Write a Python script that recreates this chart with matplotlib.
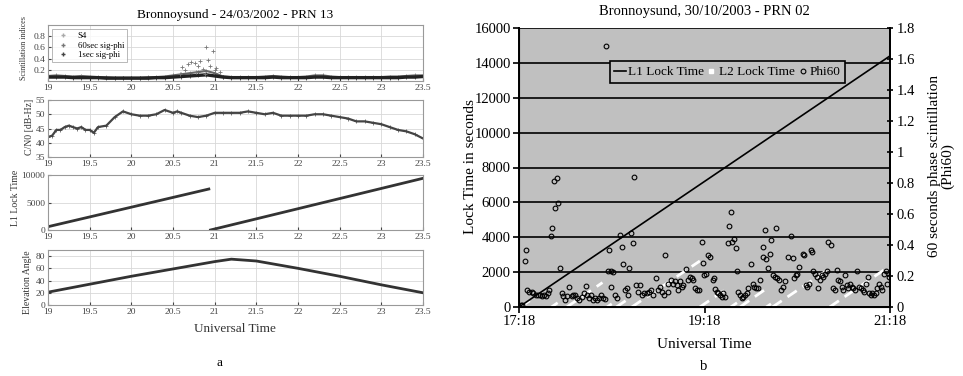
import numpy as np
import matplotlib
matplotlib.use("Agg")
import matplotlib.pyplot as plt
from matplotlib.lines import Line2D

plt.rcParams['font.family'] = ['Liberation Serif', 'DejaVu Serif']

# ---------------- panel a data ----------------
ut_ticks = [19, 19.5, 20, 20.5, 21, 21.5, 22, 22.5, 23, 23.5]
ut_labels = ['19', '19.5', '20', '20.5', '21', '21.5', '22', '22.5', '23', '23.5']

scint_t = [19.0, 19.1, 19.2, 19.3, 19.4, 19.5, 19.6, 19.7, 19.8, 19.9,
           20.0, 20.1, 20.2, 20.3, 20.4, 20.5, 20.6, 20.7, 20.8, 20.9,
           21.0, 21.1, 21.2, 21.3, 21.4, 21.5, 21.6, 21.7, 21.8, 21.9,
           22.0, 22.1, 22.2, 22.3, 22.4, 22.5, 22.6, 22.7, 22.8, 22.9,
           23.0, 23.1, 23.2, 23.3, 23.4, 23.5]
s4 = [0.09, 0.10, 0.09, 0.08, 0.09, 0.08, 0.07, 0.07, 0.06, 0.06,
      0.06, 0.06, 0.07, 0.07, 0.08, 0.10, 0.12, 0.14, 0.16, 0.18,
      0.14, 0.08, 0.07, 0.07, 0.07, 0.07, 0.08, 0.09, 0.08, 0.07,
      0.07, 0.08, 0.10, 0.10, 0.08, 0.07, 0.07, 0.07, 0.07, 0.07,
      0.07, 0.08, 0.08, 0.09, 0.10, 0.10]
sig60 = [0.07, 0.07, 0.07, 0.06, 0.06, 0.06, 0.06, 0.05, 0.05, 0.05,
         0.05, 0.05, 0.05, 0.06, 0.06, 0.07, 0.08, 0.09, 0.10, 0.11,
         0.09, 0.07, 0.06, 0.06, 0.06, 0.06, 0.06, 0.07, 0.06, 0.06,
         0.06, 0.06, 0.07, 0.07, 0.06, 0.06, 0.06, 0.06, 0.06, 0.06,
         0.06, 0.06, 0.06, 0.07, 0.07, 0.08]
burst_t = [20.58, 20.61, 20.64, 20.68, 20.72, 20.76, 20.78, 20.80, 20.82,
           20.86, 20.88, 20.90, 20.92, 20.94, 20.98, 21.00, 21.02, 21.06]
burst_sig = [0.13, 0.25, 0.19, 0.30, 0.34, 0.33, 0.16, 0.27, 0.36,
             0.22, 0.13, 0.60, 0.37, 0.27, 0.54, 0.19, 0.24, 0.16]

cn0_t = [19.0, 19.05, 19.1, 19.15, 19.2, 19.25, 19.3, 19.35, 19.4, 19.45,
         19.5, 19.55, 19.6, 19.7, 19.8, 19.9, 20.0, 20.1, 20.2, 20.3,
         20.4, 20.5, 20.55, 20.6, 20.7, 20.8, 20.9, 21.0, 21.1, 21.2,
         21.3, 21.4, 21.5, 21.6, 21.7, 21.8, 21.9, 22.0, 22.1, 22.2,
         22.3, 22.4, 22.5, 22.6, 22.7, 22.8, 22.9, 23.0, 23.1, 23.2,
         23.3, 23.4, 23.5]
cn0 = [42.0, 42.5, 44.5, 44.5, 45.5, 46.0, 45.5, 45.0, 45.5, 44.5,
       44.5, 43.5, 45.5, 46.0, 49.0, 51.0, 50.0, 49.5, 49.5, 50.0,
       51.5, 50.5, 51.0, 50.5, 49.5, 49.0, 49.5, 50.5, 50.5, 50.5,
       50.5, 51.0, 50.5, 50.0, 50.5, 49.5, 49.5, 49.5, 49.5, 50.0,
       50.0, 49.5, 49.0, 48.5, 47.5, 47.5, 47.0, 46.5, 45.5, 44.5,
       44.0, 43.0, 41.5]

lock1_t = [19.0, 20.93]
lock1 = [600, 7450]
lock2_t = [20.95, 23.5]
lock2 = [0, 9400]

elev_t = [19.0, 19.5, 20.0, 20.5, 21.0, 21.2, 21.5, 22.0, 22.5, 23.0, 23.5]
elev = [21, 34, 47, 59, 71, 75, 72, 60, 47, 33, 20]

# ---------------- panel b data ----------------
# minutes after 17:18
b_ticks = [0, 120, 240]
b_tick_labels = ['17:18', '19:18', '21:18']

l1_min = [0, 240]
l1_lock = [0, 14400]

l2_start = [1, 21, 31, 57, 63, 73, 117, 137, 143, 160, 164, 201]
l2_end = [14, 25, 54, 60, 72, 117, 135, 141, 160, 163, 200, 239]
l2_peak = [780, 240, 1400, 180, 540, 2640, 1080, 240, 1050, 180, 2150, 2300]

phi60_min = [1, 2, 3.9, 4.5, 5.4, 6.7, 8.2, 9.3, 10.8, 12.1, 13.6, 14.7, 16.2, 17.5,
             19.0, 19.6, 20.7, 21.5, 22.6, 23.3, 24.4, 25.4, 26.5, 27.6, 28.7, 29.8,
             30.8, 32.6, 34.1, 35.1, 36.2, 37.7, 39.0, 40.5, 42.0, 43.1, 44.2, 45.3,
             46.4, 48.1, 49.2, 50.2, 52.0, 53.0, 54.5, 55.6, 56.1, 57.6, 58.2, 59.3,
             59.5, 61.0, 62.1, 63.6, 65.5, 66.4, 67.5, 68.6, 69.6, 70.7, 71.4, 72.5,
             73.5, 74.4, 75.5, 77.2, 78.3, 79.3, 80.8, 82.6, 84.1, 85.4, 86.9, 88.6,
             90.1, 91.2, 92.3, 93.8, 94.4, 96.2, 96.6, 98.1, 99.8, 100.9, 102.0, 103.1,
             104.1, 105.2, 106.3, 108.0, 109.5, 110.6, 111.7, 112.8, 113.8, 114.9,
             116.2, 118.4, 119.2, 119.6, 120.7, 122.5, 123.5, 125.3, 126.1, 127.0,
             127.9, 128.9, 130.0, 131.1, 132.2, 133.2, 135.2, 136.0, 137.1, 138.0,
             139.3, 140.2, 140.8, 141.9, 143.0, 144.0, 145.1, 146.2, 147.3, 148.3,
             150.1, 151.1, 152.0, 153.3, 154.8, 155.9, 157.8, 158.0, 158.9, 159.8,
             161.3, 162.3, 163.2, 164.5, 165.6, 166.3, 167.1, 168.4, 169.7, 171.0,
             172.1, 174.2, 176.0, 177.0, 178.1, 179.2, 180.0, 181.3, 183.5, 184.3,
             185.6, 186.5, 187.8, 188.9, 189.3, 190.4, 191.5, 192.5, 193.6, 194.7,
             195.8, 196.8, 197.9, 199.0, 200.1, 201.8, 203.3, 204.4, 205.5, 206.5,
             207.6, 208.7, 209.8, 210.9, 211.9, 213.0, 214.1, 215.2, 216.2, 217.3,
             218.8, 220.1, 221.2, 222.3, 223.4, 224.4, 225.5, 226.4, 227.5, 228.5,
             229.6, 230.7, 231.8, 232.8, 233.9, 235.0, 236.1, 237.2, 238.2, 239.3]
phi60 = [0.01, 0.01, 0.30, 0.37, 0.11, 0.10, 0.10, 0.09, 0.08, 0.08, 0.08, 0.07, 0.08, 0.07,
         0.09, 0.11, 0.46, 0.51, 0.815, 0.64, 0.835, 0.67, 0.25, 0.09, 0.07, 0.045,
         0.07, 0.13, 0.07, 0.08, 0.08, 0.055, 0.045, 0.065, 0.09, 0.135, 0.08, 0.055,
         0.08, 0.045, 0.055, 0.045, 0.055, 0.08, 0.055, 0.05, 1.685, 0.23, 0.37, 0.13,
         0.23, 0.225, 0.08, 0.055, 0.465, 0.39, 0.28, 0.11, 0.12, 0.08, 0.25, 0.48,
         0.415, 0.84, 0.14, 0.10, 0.14, 0.08, 0.09, 0.09, 0.10, 0.11, 0.08, 0.19,
         0.11, 0.13, 0.10, 0.08, 0.335, 0.10, 0.15, 0.175, 0.15, 0.165, 0.14, 0.11,
         0.165, 0.13, 0.14, 0.245, 0.175, 0.195, 0.185, 0.175, 0.12, 0.11,
         0.11, 0.42, 0.285, 0.205, 0.215, 0.335, 0.32, 0.175, 0.185, 0.115,
         0.10, 0.09, 0.08, 0.065, 0.09, 0.065, 0.41, 0.52, 0.615, 0.42,
         0.44, 0.38, 0.235, 0.095, 0.08, 0.055, 0.065, 0.08, 0.09, 0.12,
         0.275, 0.15, 0.13, 0.12, 0.12, 0.175, 0.39, 0.32, 0.50, 0.31,
         0.25, 0.345, 0.43, 0.205, 0.195, 0.51, 0.185, 0.175, 0.11, 0.13,
         0.165, 0.325, 0.46, 0.315, 0.185, 0.205, 0.215, 0.26, 0.345, 0.335,
         0.14, 0.13, 0.15, 0.37, 0.355, 0.23, 0.215, 0.195, 0.12, 0.175,
         0.205, 0.195, 0.215, 0.23, 0.42, 0.40, 0.12, 0.11, 0.24, 0.175,
         0.165, 0.13, 0.11, 0.205, 0.14, 0.12, 0.15, 0.13, 0.12, 0.11,
         0.23, 0.13, 0.12, 0.11, 0.10, 0.15, 0.195, 0.09, 0.08, 0.09,
         0.08, 0.09, 0.12, 0.15, 0.13, 0.11, 0.215, 0.23, 0.15, 0.195]

W, H = 963, 376
fig = plt.figure(figsize=(W / 100, H / 100), dpi=100)


def frac(px, py):
    return px / W, 1 - py / H


# ---------------- panel a ----------------
rows = [(25, 81), (100, 157), (175, 230), (250, 305)]
axes_a = []
for top, bot in rows:
    a = fig.add_axes([48 / W, 1 - bot / H, (423 - 48) / W, (bot - top) / H])
    a.set_xlim(19, 23.5)
    a.set_xticks(ut_ticks)
    a.set_xticklabels(ut_labels)
    a.grid(True, color='#d8d8d8', lw=0.6)
    a.set_axisbelow(True)
    a.tick_params(labelsize=6.8, colors='#444', length=2, direction='in', pad=2)
    for s in a.spines.values():
        s.set_color('#999')
        s.set_linewidth(0.8)
    axes_a.append(a)

a1, a2, a3, a4 = axes_a
a1.plot(scint_t, s4, color='#666', lw=1.5, marker='+', ms=2.5, mew=0.5)
a1.plot(scint_t, sig60, color='#222', lw=2.4, marker='+', ms=2.5, mew=0.5)
a1.plot(burst_t, burst_sig, ls='none', marker='+', ms=3, mew=0.6, color='#777')
a1.set_ylim(0, 1)
a1.set_yticks([0.2, 0.4, 0.6, 0.8])
a1.set_yticklabels(['0.2', '0.4', '0.6', '0.8'])
leg_a = [Line2D([], [], ls='none', marker='+', color='#aaa', ms=3),
         Line2D([], [], ls='none', marker='+', color='#777', ms=3),
         Line2D([], [], ls='none', marker='+', color='#444', ms=3)]
la = a1.legend(leg_a, ['S4', '60sec sig-phi', '1sec sig-phi'], loc='upper left',
               fontsize=6.3, frameon=True, fancybox=False, edgecolor='#999',
               handlelength=1.8, borderpad=0.3, labelspacing=0.15)
la.get_frame().set_linewidth(0.6)

a2.plot(cn0_t, cn0, color='#444', lw=1.6, marker='+', ms=2.5, mew=0.5)
a2.set_ylim(35, 55)
a2.set_yticks([35, 40, 45, 50, 55])

a3.plot(lock1_t, lock1, color='#333', lw=2.0)
a3.plot(lock2_t, lock2, color='#333', lw=2.0)
a3.set_ylim(0, 10000)
a3.set_yticks([0, 5000, 10000])

a4.plot(elev_t, elev, color='#333', lw=2.0)
a4.set_ylim(0, 90)
a4.set_yticks([0, 20, 40, 60, 80])

fig.text(*frac(235, 15), 'Bronnoysund - 24/03/2002 - PRN 13', ha='center', va='center', fontsize=9.5)
fig.text(*frac(24, 48), 'Scintillation indices', rotation=90, ha='center', va='center', fontsize=5.8, color='#333')
fig.text(*frac(30, 127), 'C/N0 [dB-Hz]', rotation=90, ha='center', va='center', fontsize=7, color='#333')
fig.text(*frac(15, 198), 'L1 Lock Time', rotation=90, ha='center', va='center', fontsize=7, color='#333')
fig.text(*frac(28, 282), 'Elevation Angle', rotation=90, ha='center', va='center', fontsize=7, color='#333')
fig.text(*frac(235, 329), 'Universal Time', ha='center', va='center', fontsize=9.5, color='#333')
fig.text(*frac(219, 363), 'a', ha='center', va='center', fontsize=9.5)

# ---------------- panel b ----------------
ax = fig.add_axes([519 / W, 1 - 307 / H, (890 - 519) / W, (307 - 28) / H])
ax.set_facecolor('#c0c0c0')
ax.set_xlim(0, 240)
ax.set_ylim(0, 16000)
ax.set_yticks(range(0, 16001, 2000))
ax.set_xticks(b_ticks)
ax.set_xticklabels(b_tick_labels)
ax.yaxis.grid(True, color='black', lw=1.2)
ax.set_axisbelow(True)
ax.spines['top'].set_visible(False)
for s in ['left', 'bottom', 'right']:
    ax.spines[s].set_linewidth(1.4)
ax.tick_params(labelsize=10.5, length=4, width=1.2, direction='out', pad=2)

ax.plot(l1_min, l1_lock, color='black', lw=1.2, zorder=3)
for s0, s1, pk in zip(l2_start, l2_end, l2_peak):
    ax.plot([s0, s1], [0, pk], color='white', lw=2.0, ls=(0, (4, 2.5)), zorder=2)

ax2 = ax.twinx()
ax2.set_ylim(0, 1.8)
ax2.set_yticks([0, 0.2, 0.4, 0.6, 0.8, 1.0, 1.2, 1.4, 1.6, 1.8])
ax2.set_yticklabels(['0', '0.2', '0.4', '0.6', '0.8', '1', '1.2', '1.4', '1.6', '1.8'])
ax2.spines['top'].set_visible(False)
ax2.spines['right'].set_linewidth(1.4)
ax2.tick_params(labelsize=10.5, length=5, width=1.2, direction='inout', pad=2)
ax2.plot(phi60_min, phi60, ls='none', marker='o', ms=3.4, mfc='none', mec='black', mew=0.8)

handles = [Line2D([], [], color='black', lw=1.2),
           Line2D([], [], ls='none', marker='s', ms=2.5, color='white'),
           Line2D([], [], ls='none', marker='o', ms=3.4, mfc='none', mec='black', mew=0.8)]
lg = ax2.legend(handles, ['L1 Lock Time', 'L2 Lock Time', 'Phi60'], ncol=3,
                loc='center', bbox_to_anchor=(0.562, 0.842), fontsize=9.5,
                frameon=True, fancybox=False, facecolor='#c0c0c0', edgecolor='black',
                framealpha=1, handlelength=0.9, handletextpad=0.1, columnspacing=0.15,
                borderpad=0.35)
lg.get_frame().set_linewidth(1.2)

fig.text(*frac(704, 12), 'Bronnoysund, 30/10/2003 - PRN 02', ha='center', va='center', fontsize=10.5)
fig.text(*frac(470, 167), 'Lock Time in seconds', rotation=90, ha='center', va='center', fontsize=11)
fig.text(*frac(941, 166), '60 seconds phase scintillation\n(Phi60)', rotation=90,
         ha='center', va='center', multialignment='center', fontsize=11, linespacing=1.0)
fig.text(*frac(704, 345), 'Universal Time', ha='center', va='center', fontsize=11)
fig.text(*frac(704, 367), 'b', ha='center', va='center', fontsize=10.5)

fig.savefig('out.png', dpi=100)
